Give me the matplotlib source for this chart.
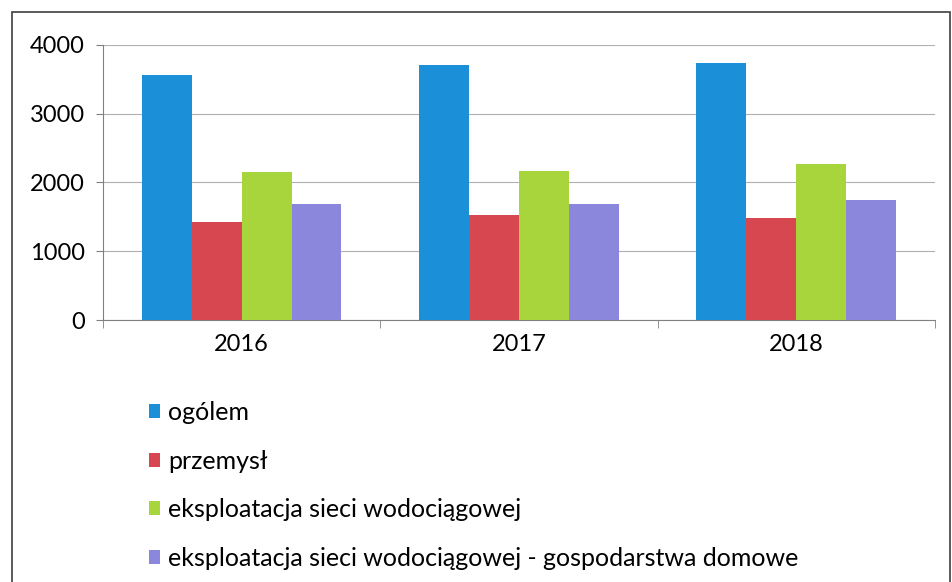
import matplotlib
matplotlib.use("Agg")
import matplotlib.pyplot as plt
import numpy as np
from matplotlib.patches import Rectangle

years = ["2016", "2017", "2018"]
series_names = ["ogólem", "przemysł", "eksploatacja sieci wodociągowej",
                "eksploatacja sieci wodociągowej - gospodarstwa domowe"]
ogolem = [3560, 3700, 3730]
przemysl = [1420, 1530, 1480]
siec = [2150, 2160, 2270]
gosp = [1680, 1680, 1740]
colors = ["#1b8fd8", "#d6474f", "#a8d43c", "#8b87dc"]

plt.rcParams['font.family'] = ['Lato', 'DejaVu Sans']

fig = plt.figure(figsize=(9.53, 5.82), dpi=100)
ax = fig.add_axes([0.108, 0.450, 0.873, 0.473])

x = np.arange(len(years))
w = 0.18
data = [ogolem, przemysl, siec, gosp]
for i, (vals, c, name) in enumerate(zip(data, colors, series_names)):
    ax.bar(x + (i - 1.5) * w, vals, width=w, color=c, label=name, zorder=3)

ax.set_xlim(-0.5, 2.5)
ax.set_ylim(0, 4000)
ax.set_yticks([0, 1000, 2000, 3000, 4000])
ax.yaxis.grid(True, color="#b0b0b0", linewidth=0.8, zorder=0)
for s in ["top", "right"]:
    ax.spines[s].set_visible(False)
ax.spines["left"].set_color("#808080")
ax.spines["bottom"].set_color("#808080")
ax.set_xticks(x)
ax.set_xticklabels(years, fontsize=17)
ax.tick_params(axis="x", length=0, pad=10)
ax.set_xticks([-0.5, 0.5, 1.5, 2.5], minor=True)
ax.tick_params(axis="x", which="minor", length=6, color="#808080")
ax.tick_params(axis="y", labelsize=17, length=5, color="#808080", pad=8)

handles, labels = ax.get_legend_handles_labels()
fig.legend(handles, labels, loc="upper left", bbox_to_anchor=(0.146, 0.328),
           frameon=False, fontsize=18, handlelength=0.42, handleheight=0.5,
           handletextpad=0.35, labelspacing=1.02, borderaxespad=0)

fig.add_artist(Rectangle((12/953, -0.01), (950-12)/953, 1 - 12/582 + 0.01,
                         transform=fig.transFigure, fill=False,
                         edgecolor="#404040", linewidth=1.2))

fig.savefig("out.png", dpi=100)
